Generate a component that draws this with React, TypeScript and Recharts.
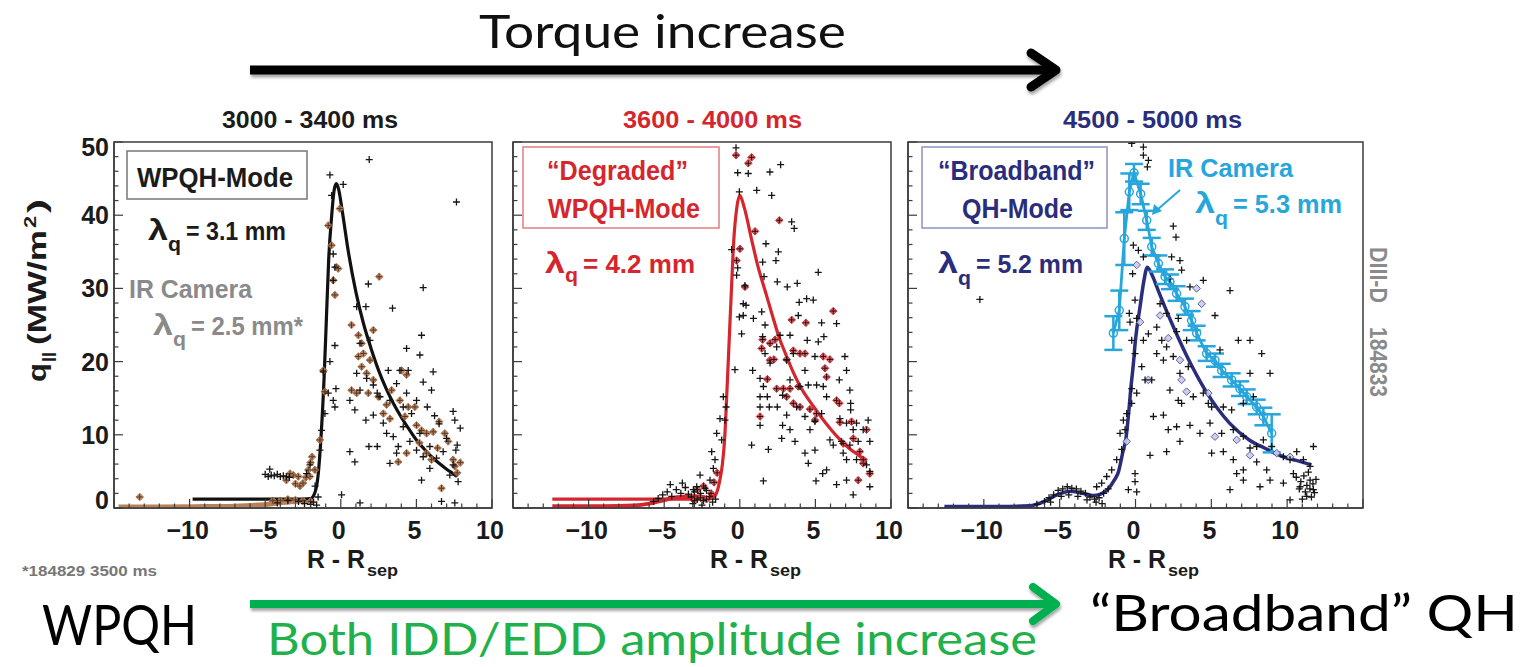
import React from 'react';
import { ComposedChart, Line, Scatter, XAxis, YAxis, ReferenceArea, ErrorBar } from 'recharts';

type Pt = [number, number];

// axis ticks
const X_TICKS_25 = [-15, -14, -13, -12, -11, -10, -9, -8, -7, -6, -5, -4, -3, -2, -1, 0, 1, 2, 3, 4, 5, 6, 7, 8, 9, 10];
const X_TICKS_30 = [-15, -14, -13, -12, -11, -10, -9, -8, -7, -6, -5, -4, -3, -2, -1, 0, 1, 2, 3, 4, 5, 6, 7, 8, 9, 10, 11, 12, 13, 14, 15];
const Y_TICKS = [0, 2, 4, 6, 8, 10, 12, 14, 16, 18, 20, 22, 24, 26, 28, 30, 32, 34, 36, 38, 40, 42, 44, 46, 48, 50];
const X_LABELS = [-10, -5, 0, 5, 10];
const Y_LABELS = [0, 10, 20, 30, 40, 50];

// panel 1: 3000 - 3400 ms
const P1_FIT: Pt[] = [[-9.8, 1.2], [-6, 1.2], [-3, 1.2], [-2, 1.3], [-1.7, 2.2], [-1.5, 4.5], [-1.3, 10], [-1.1, 18], [-0.95, 26], [-0.8, 34], [-0.6, 40], [-0.45, 43.3], [-0.3, 44.3], [-0.15, 43.6], [0.1, 40.5], [0.5, 35], [1, 29.5], [1.5, 25.2], [2, 21.8], [2.5, 18.8], [3, 16.3], [3.5, 14.2], [4, 12.4], [4.5, 10.8], [5, 9.3], [5.5, 8.1], [6, 7], [6.5, 6.1], [7, 5.3], [7.5, 4.6], [7.7, 4.3]];
const P1_BAND: Pt[] = [[-14.7, 0.15], [-12, 0.15], [-9, 0.2], [-7, 0.25], [-5.5, 0.4], [-4, 0.7], [-3, 0.9], [-2, 1.0]];
const P1_BLACK: Pt[] = [[1.88, 47.6], [-0.72, 45.5], [0.16, 44.2], [7.65, 41.8], [-0.61, 42.7], [-0.5, 34.7], [-0.5, 31.1], [-0.39, 32.9], [1.82, 30.6], [5.45, 30.1], [1.05, 27.5], [1.66, 27.5], [3.42, 27.3], [5.34, 23.6], [-0.39, 22.2], [4.35, 21.8], [5.23, 20.9], [6.11, 18.6], [3.14, 18.8], [-0.72, 20.0], [1.93, 22.9], [1.27, 22.5], [3.91, 18.8], [4.46, 18.8], [5.45, 17.2], [6.0, 16.1], [-0.32, 16.3], [-0.5, 14.7], [-0.39, 13.8], [0.6, 14.7], [0.93, 13.4], [1.66, 12.0], [2.15, 12.7], [2.41, 15.7], [3.25, 14.7], [4.13, 13.8], [5.01, 14.7], [5.72, 13.8], [2.81, 11.6], [3.03, 10.2], [3.47, 9.75], [4.13, 11.1], [4.57, 9.1], [5.01, 7.9], [5.45, 7.0], [5.89, 8.4], [6.33, 6.8], [6.77, 7.7], [7.43, 13.2], [7.54, 12.0], [7.61, 7.9], [7.43, 5.9], [7.76, 3.6], [7.21, 4.5], [5.34, 3.8], [5.89, 5.4], [0.6, 7.7], [0.93, 6.3], [1.86, 8.4], [2.41, 8.4], [0.05, 1.8], [1.27, 0.7], [6.66, 0.9], [7.54, 0.7], [-1.16, 18.6], [-0.83, 15.7], [-1.05, 12.9], [-1.27, 10.6], [-1.38, 7.9], [-2.26, 4.7], [-2.04, 5.9], [1.05, 18.4], [1.27, 16.1], [1.71, 17.7], [2.15, 16.8], [2.59, 15.2], [3.69, 17.0], [4.35, 15.7], [4.68, 12.9], [5.23, 10.2], [3.69, 7.5], [3.25, 6.1], [3.8, 8.4], [-5.0, 4.6], [-4.8, 4.3], [-4.6, 4.5], [-4.4, 4.4], [-4.2, 4.6], [-4.0, 4.3], [-3.8, 4.4], [-3.6, 4.3], [-3.4, 4.2], [-4.7, 5.3], [-2.4, 0.6], [-2.0, 0.5], [-1.8, 0.8], [-1.6, 0.4], [-2.8, 0.9], [-3.5, 1.0], [-4.2, 0.7], [-1.5, 1.5], [-1.7, 3.0], [7.9, 10.9], [7.7, 8.6], [7.0, 9.5], [6.5, 11.5], [6.2, 12.6]];
const P1_BROWN: Pt[] = [[-0.06, 40.9], [-0.83, 38.6], [-0.61, 35.9], [-0.28, 32.9], [-0.17, 32.7], [-0.39, 29.1], [2.54, 31.6], [0.71, 25.0], [1.16, 23.6], [1.38, 22.5], [2.15, 24.3], [1.16, 20.7], [1.49, 21.1], [1.38, 19.3], [1.93, 20.2], [1.71, 18.4], [2.15, 17.5], [4.02, 18.8], [4.35, 18.2], [0.71, 16.1], [1.05, 15.7], [1.82, 15.7], [2.48, 15.2], [3.03, 14.1], [3.36, 16.1], [3.91, 14.7], [4.46, 13.8], [4.9, 13.8], [2.81, 12.9], [3.25, 12.2], [4.24, 12.5], [5.01, 11.3], [5.34, 10.6], [5.67, 10.2], [6.11, 10.4], [6.88, 10.2], [7.1, 9.1], [3.8, 6.3], [4.35, 7.5], [5.67, 7.5], [6.0, 6.6], [6.66, 2.7], [7.43, 6.6], [7.54, 5.7], [-0.5, 31.1], [-1.16, 18.8], [-1.05, 15.9], [-1.38, 9.3], [-1.71, 5.2], [-2.04, 4.3], [-2.81, 4.3], [-3.14, 4.5], [-3.36, 4.7], [-13.3, 1.5], [-3.6, 3.8], [-3.0, 3.3], [-2.7, 3.0], [-2.5, 3.4], [-2.3, 4.2], [-2.15, 5.2], [-2.0, 6.2], [-1.9, 7.0], [-4.5, 1.0], [-4.0, 1.0], [-3.5, 1.2], [-3.0, 1.1], [-2.5, 1.0], [-2.0, 0.9], [7.7, 4.8], [7.9, 6.2], [6.4, 8.2], [5.2, 8.9], [6.5, 11.8]];

// panel 2: 3600 - 4000 ms
const P2_FIT: Pt[] = [[-12.4, 1.2], [-8, 1.2], [-4, 1.2], [-2, 1.25], [-1.6, 1.8], [-1.35, 3.5], [-1.15, 6], [-1.0, 9.5], [-0.85, 16], [-0.7, 23], [-0.55, 30], [-0.4, 36.5], [-0.2, 41], [0, 42.7], [0.3, 41], [0.8, 36.5], [1.2, 33], [1.7, 29.5], [2.2, 26], [2.6, 23.3], [3.0, 21.2], [3.5, 18.7], [4, 16.6], [4.9, 13.8], [5.5, 12.1], [6, 10.8], [6.6, 9.4], [7.2, 8.2], [7.8, 7.3], [8.4, 6.5]];
const P2_BAND: Pt[] = [[-12.4, 0.25], [-9, 0.25], [-7, 0.35], [-6, 0.6], [-5, 1.1], [-4, 1.5], [-3, 1.6], [-2.2, 1.4]];
const P2_BLACK: Pt[] = [[-0.25, 49.2], [-0.14, 45.8], [0.56, 45.7], [1.99, 45.9], [2.7, 46.9], [1.12, 43.4], [-0.03, 43.2], [2.11, 42.7], [3.43, 39.1], [3.6, 38.2], [-0.54, 35.3], [1.73, 36.1], [2.55, 35.0], [-0.14, 32.8], [-0.21, 31.8], [5.19, 32.2], [0.34, 30.4], [1.51, 33.6], [2.39, 33.8], [1.6, 31.6], [2.48, 30.9], [3.14, 30.2], [3.8, 30.7], [4.42, 28.6], [4.86, 28.4], [3.93, 28.1], [0.23, 27.9], [0.41, 27.7], [0.23, 26.3], [-0.03, 26.1], [0.9, 25.9], [1.67, 25.0], [1.45, 26.8], [3.87, 26.3], [5.41, 25.3], [6.4, 25.2], [0.12, 23.8], [2.66, 23.6], [3.32, 23.6], [4.46, 22.9], [5.19, 22.7], [5.56, 23.4], [1.51, 23.4], [1.67, 21.1], [2.44, 22.0], [2.0, 19.8], [3.1, 20.2], [3.54, 21.1], [4.31, 18.8], [4.97, 20.7], [6.95, 20.7], [7.06, 18.8], [-0.32, 18.9], [0.85, 18.8], [1.34, 17.7], [1.56, 16.6], [1.82, 15.2], [1.34, 15.2], [2.83, 15.4], [3.32, 17.5], [3.98, 16.6], [4.53, 16.8], [5.08, 16.8], [5.52, 16.6], [5.74, 15.2], [6.58, 17.5], [7.28, 16.1], [7.33, 14.3], [7.33, 13.4], [1.34, 13.8], [1.95, 13.8], [1.34, 11.3], [2.48, 13.8], [3.1, 12.7], [3.76, 13.8], [4.31, 12.5], [4.97, 11.8], [5.41, 12.9], [2.83, 11.3], [3.32, 10.7], [4.64, 10.7], [6.62, 12.2], [7.06, 11.6], [7.72, 11.6], [8.49, 12.0], [8.16, 10.7], [7.5, 10.7], [0.78, 8.6], [1.89, 8.0], [2.77, 9.5], [3.65, 9.1], [4.31, 7.5], [4.97, 7.9], [5.96, 9.3], [6.18, 8.6], [6.73, 9.1], [7.28, 8.6], [7.83, 9.1], [8.6, 9.1], [6.84, 7.5], [7.06, 6.6], [7.72, 6.6], [8.38, 5.9], [8.6, 5.0], [8.6, 2.9], [7.5, 1.8], [7.06, 3.8], [6.4, 3.2], [5.74, 5.2], [5.48, 4.7], [5.04, 3.7], [4.53, 6.1], [1.56, 3.7], [-1.09, 15.2], [-0.91, 13.8], [-0.98, 12.0], [-1.31, 12.2], [-1.2, 9.3], [-1.53, 10.2], [-1.86, 7.7], [-1.64, 6.6], [-1.75, 5.4], [-1.97, 3.8], [-2.3, 2.7], [-2.63, 4.5], [-2.85, 2.9], [-3.07, 2.5], [-3.2, 1.5], [-3.0, 2.2], [-2.8, 1.2], [-2.6, 2.0], [-2.4, 1.0], [-2.2, 2.4], [-2.0, 1.6], [-1.8, 0.8], [-1.6, 1.2], [-3.1, 0.6], [-2.5, 0.4], [-5.4, 1.3], [-5.1, 1.8], [-4.8, 2.2], [-4.5, 1.6], [-4.2, 2.5], [-3.9, 2.0], [-3.6, 2.8], [-3.4, 1.9], [-5.7, 0.9], [-4.6, 3.2], [-3.8, 3.4]];
const P2_RED: Pt[] = [[-0.25, 48.2], [0.78, 47.9], [0.56, 47.1], [1.01, 37.8], [0.01, 35.4], [-0.21, 33.8], [0.34, 30.2], [2.61, 39.3], [6.18, 26.9], [3.43, 25.7], [4.37, 25.3], [1.51, 23.0], [2.0, 22.5], [2.33, 23.0], [3.54, 21.5], [3.98, 21.1], [4.31, 21.1], [5.52, 20.7], [5.96, 20.3], [5.63, 19.1], [5.74, 17.9], [1.45, 21.8], [2.0, 20.2], [2.26, 20.3], [3.1, 20.3], [1.82, 17.6], [2.44, 16.3], [2.88, 16.3], [3.32, 16.3], [3.87, 16.6], [3.54, 14.3], [3.98, 13.8], [4.64, 13.5], [5.08, 12.9], [4.97, 12.0], [6.4, 14.7], [6.58, 14.3], [6.62, 11.7], [7.39, 11.8], [1.34, 12.5], [3.1, 15.2], [6.84, 8.8], [7.5, 9.5], [7.94, 7.7], [8.16, 6.1], [8.38, 10.7], [8.6, 4.7], [7.83, 3.8], [8.16, 6.6], [-3.0, 1.0], [-2.6, 1.4], [-2.2, 1.2], [-1.9, 2.0], [-1.7, 3.5], [-1.5, 4.8], [-2.8, 2.5], [-2.4, 3.0]];

// panel 3: 4500 - 5000 ms
const P3_FIT: Pt[] = [[-12.6, 0.2], [-9, 0.2], [-7, 0.3], [-6, 0.9], [-5.2, 1.8], [-4.3, 2.3], [-3.5, 2.0], [-2.8, 1.7], [-2.3, 1.9], [-1.8, 2.6], [-1.4, 3.8], [-1.13, 4.9], [-0.85, 7.5], [-0.63, 9.5], [-0.45, 13], [-0.32, 16.1], [-0.15, 19.5], [0, 23], [0.3, 27.5], [0.55, 31], [0.78, 32.9], [1.1, 31.8], [1.5, 29.7], [2.4, 25.2], [3.4, 20.7], [4.6, 16.1], [6.2, 11.6], [7.5, 9.3], [8.5, 8.2], [9.75, 7.0], [10.6, 6.5], [11.6, 5.9]];
const P3_IR: [number, number, number][] = [[-1.46, 23.9, 2.3], [-1.07, 27.0, 2.7], [-0.74, 36.8, 3.6], [-0.41, 43.2, 2.5], [-0.1, 45.8, 1.2], [0.34, 42.9, 1.4], [0.74, 39.3, 1.3], [1.07, 35.7, 1.2], [1.51, 33.4, 1.1], [1.95, 31.6, 1.0], [2.27, 30.9, 1.0], [2.71, 29.3, 1.0], [3.26, 27.5, 1.1], [3.7, 25.6, 1.3], [4.03, 23.9, 1.0], [4.69, 21.1, 1.0], [5.24, 20.2, 0.9], [5.68, 18.8, 0.9], [6.34, 17.5, 0.9], [6.89, 16.3, 1.0], [7.33, 15.2, 1.0], [7.99, 13.8, 1.0], [8.43, 12.5, 1.2], [8.98, 10.2, 2.6]];
const P3_BLACK: Pt[] = [[-0.25, 49.8], [0.52, 49.3], [0.52, 48.2], [0.85, 47.5], [0.78, 46.6], [2.49, 38.5], [2.67, 37.0], [-0.14, 35.9], [0.19, 35.2], [0.52, 34.3], [-0.19, 32.0], [2.38, 34.3], [2.93, 33.8], [3.04, 32.5], [2.27, 31.3], [3.59, 30.2], [4.47, 31.1], [6.23, 29.7], [-0.03, 28.4], [-0.41, 26.6], [-0.36, 25.4], [0.08, 25.9], [1.62, 27.9], [2.05, 26.6], [2.82, 25.9], [5.24, 26.3], [6.78, 22.9], [7.55, 22.9], [5.57, 21.6], [8.32, 21.1], [-0.25, 22.9], [-0.03, 21.1], [0.52, 22.9], [0.85, 23.8], [1.4, 24.7], [1.73, 22.9], [2.05, 22.0], [2.71, 24.1], [3.37, 22.9], [0.41, 19.3], [0.63, 17.5], [1.07, 17.5], [1.4, 21.1], [1.84, 20.2], [2.49, 20.7], [2.93, 18.4], [3.48, 19.3], [2.27, 16.1], [2.82, 14.7], [3.81, 15.2], [4.47, 15.7], [4.8, 14.3], [5.02, 13.8], [5.79, 13.8], [6.34, 13.4], [7.11, 14.3], [7.77, 15.2], [-0.25, 16.3], [-0.25, 14.3], [-0.58, 12.9], [-0.8, 12.0], [-0.69, 10.7], [-1.02, 10.2], [-0.91, 8.0], [-1.24, 6.6], [-1.57, 5.2], [-1.9, 4.3], [-2.23, 3.4], [-2.56, 2.9], [0.08, 15.7], [1.18, 12.5], [1.84, 12.7], [2.16, 10.7], [2.71, 11.1], [2.93, 9.1], [2.05, 7.7], [0.96, 7.2], [3.59, 11.3], [4.25, 10.2], [4.91, 11.6], [5.68, 10.2], [6.45, 10.7], [7.11, 9.8], [7.55, 8.2], [7.99, 8.4], [8.43, 9.3], [8.98, 8.4], [5.02, 7.5], [5.79, 7.7], [6.45, 6.6], [7.11, 5.2], [7.99, 6.3], [8.65, 5.2], [9.75, 7.0], [10.19, 6.6], [10.63, 7.7], [11.07, 6.6], [11.73, 8.4], [11.51, 5.7], [10.41, 4.7], [9.75, 3.4], [10.85, 2.9], [11.51, 3.8], [11.73, 2.5], [11.29, 1.6], [10.19, 1.1], [8.87, 3.8], [8.21, 2.9], [7.11, 3.8], [6.23, 2.5], [6.67, 4.7], [-0.03, 4.7], [-0.03, 3.6], [0.08, 2.2], [-0.47, 2.5], [3.04, 14.3], [8.87, 18.4], [7.55, 18.4], [-10.26, 28.5], [10.6, 4.2], [10.9, 3.6], [11.1, 4.4], [11.3, 3.1], [11.5, 2.6], [11.7, 3.3], [11.8, 2.1], [11.6, 1.5], [11.2, 2.2], [10.8, 2.6], [11.9, 3.9], [11.4, 4.9], [11.0, 1.2], [-6.5, 0.5], [-6, 0.9], [-5.7, 1.4], [-5.4, 1.8], [-5.1, 2.4], [-4.8, 2.6], [-4.5, 2.9], [-4.2, 2.7], [-3.9, 2.6], [-3.6, 2.3], [-3.3, 2.0], [-3.0, 1.5], [-2.7, 1.2], [-2.4, 1.4], [-2.1, 2.0], [-1.8, 2.6], [-5.6, 0.8], [-4.9, 1.6], [-4.4, 1.8], [-3.8, 1.6], [-3.2, 1.1], [-2.6, 0.8], [-2.2, 0.6]];
const P3_NAVY: Pt[] = [[0.08, 33.2], [0.3, 25.4], [1.62, 26.3], [2.16, 23.2], [2.93, 20.2], [3.04, 17.5], [3.37, 15.9], [4.03, 30.0], [4.36, 27.9], [4.8, 15.7], [0.85, 17.5], [-0.58, 9.1], [6.67, 9.3], [5.24, 9.75], [7.55, 7.2], [9.31, 7.5], [10.19, 7.0]];

const toXY = (pts: Pt[]) => pts.map(([x, y]) => ({ x, y }));
const irData = P3_IR.map(([x, y, err]) => ({ x, y, err }));

const SANS = "'Liberation Sans', Arial, Helvetica, sans-serif";
const GOTHIC = "Lato, 'Open Sans', sans-serif";
const INK = '#1b1b1b';
const FRAME = '#3c3c3c';
const RED = '#d5262e';
const NAVY = '#2a2d7c';
const CYAN = '#27a6dc';
const GRAY = '#8a8a8a';
const BROWN = '#b98159';
const GREEN = '#00b050';

const PLOT_TOP = 142;
const PLOT_H = 366;

const cross = (color: string, s = 3.5, w = 1.3) => (p: any) => (
  <path d={`M${p.cx - s},${p.cy}H${p.cx + s}M${p.cx},${p.cy - s}V${p.cy + s}`} stroke={color} strokeWidth={w} fill="none" />
);

const diamond = (fill: string, stroke: string, inner: string | null, r = 3.8) => (p: any) => (
  <g>
    <path d={`M${p.cx},${p.cy - r}L${p.cx + r},${p.cy}L${p.cx},${p.cy + r}L${p.cx - r},${p.cy}Z`} fill={fill} stroke={stroke} strokeWidth={1} opacity={0.9} />
    {inner && <path d={`M${p.cx - 3},${p.cy}H${p.cx + 3}M${p.cx},${p.cy - 3}V${p.cy + 3}`} stroke={inner} strokeWidth={1} />}
  </g>
);

function XTick(props: any) {
  const { x, y, payload } = props;
  const v = payload.value as number;
  const major = v % 5 === 0;
  return (
    <g>
      <line x1={x} x2={x} y1={y} y2={y - (major ? 9 : 4.5)} stroke={FRAME} strokeWidth={1.2} />
      {X_LABELS.includes(v) && (
        <text x={x - 2} y={y + 31} textAnchor="middle" fontFamily={SANS} fontWeight={700} fontSize={25} fill={INK}>
          {v < 0 ? `\u2212${-v}` : String(v)}
        </text>
      )}
    </g>
  );
}

function YTick(props: any) {
  const { x, y, payload, showLabels } = props;
  const v = payload.value as number;
  const major = v % 10 === 0;
  const nudge = v === 50 ? 5 : v === 0 ? -8 : 0;
  return (
    <g>
      <line x1={x} x2={x + (major ? 9 : 4.5)} y1={y} y2={y} stroke={FRAME} strokeWidth={1.2} />
      {showLabels && Y_LABELS.includes(v) && (
        <text x={x - 5} y={y + nudge + 9} textAnchor="end" fontFamily={SANS} fontWeight={700} fontSize={25} fill={INK}>
          {v}
        </text>
      )}
    </g>
  );
}

function Panel({ left, plotW, xMax, xTicks, showLabels, children }: any) {
  return (
    <div style={{ position: 'absolute', left: left - 60, top: PLOT_TOP - 10 }}>
      <ComposedChart width={plotW + 90} height={PLOT_H + 60} margin={{ top: 10, right: 30, bottom: 0, left: 0 }}>
        <XAxis type="number" dataKey="x" domain={[-15, xMax]} ticks={xTicks} interval={0} allowDataOverflow
          height={50} tickSize={0} tickMargin={0} tickLine={false} axisLine={{ stroke: FRAME, strokeWidth: 1.5 }}
          tick={(p: any) => <XTick {...p} />} />
        <YAxis type="number" dataKey="y" domain={[0, 50]} ticks={Y_TICKS} interval={0} allowDataOverflow
          width={60} tickSize={0} tickMargin={0} tickLine={false} axisLine={{ stroke: FRAME, strokeWidth: 1.5 }}
          tick={(p: any) => <YTick {...p} showLabels={showLabels} />} />
        <ReferenceArea x1={-15} x2={xMax} y1={0} y2={50} fill="none" fillOpacity={0} stroke={FRAME} strokeWidth={1.5} />
        {children}
      </ComposedChart>
    </div>
  );
}

function T({ x, y, w, size, fill = INK, weight = 700, family = SANS, children }: any) {
  return (
    <text x={x} y={y} fontSize={size} fontWeight={weight} fontFamily={family} fill={fill}
      textLength={w} lengthAdjust="spacingAndGlyphs">
      {children}
    </text>
  );
}

function Lambda({ x, y, w, fill, text, qy = 11 }: any) {
  return (
    <g>
      <T x={x} y={y} w={20} size={30} fill={fill}>λ</T>
      <T x={x + 20} y={y + qy} w={13} size={20} fill={fill}>q</T>
      <T x={x + 38} y={y} w={w} size={26} fill={fill}>{text}</T>
    </g>
  );
}

function Rsep({ x }: { x: number }) {
  return (
    <g>
      <T x={x} y={568} w={58} size={25}>R - R</T>
      <T x={x + 60} y={576} w={31} size={16}>sep</T>
    </g>
  );
}

export default function App() {
  return (
    <div style={{ position: 'absolute', left: 0, top: 0, width: 1522, height: 667, background: '#fff', overflow: 'hidden' }}>
      <Panel left={114} plotW={378} xMax={10} xTicks={X_TICKS_25} showLabels>
        <Line data={toXY(P1_BAND)} dataKey="y" type="monotone" stroke={BROWN} strokeWidth={5} dot={false} isAnimationActive={false} />
        <Scatter data={toXY(P1_BROWN)} shape={diamond(BROWN, '#a8704a', '#5a3520')} isAnimationActive={false} />
        <Scatter data={toXY(P1_BLACK)} shape={cross('#151515')} isAnimationActive={false} />
        <Line data={toXY(P1_FIT)} dataKey="y" type="monotone" stroke="#111" strokeWidth={3.2} dot={false} isAnimationActive={false} />
      </Panel>
      <Panel left={513} plotW={378} xMax={10} xTicks={X_TICKS_25} showLabels={false}>
        <Line data={toXY(P2_BAND)} dataKey="y" type="monotone" stroke={RED} strokeWidth={4} dot={false} isAnimationActive={false} />
        <Scatter data={toXY(P2_RED)} shape={diamond('#e0575c', '#c8242b', '#2a0a0a')} isAnimationActive={false} />
        <Scatter data={toXY(P2_BLACK)} shape={cross('#151515')} isAnimationActive={false} />
        <Line data={toXY(P2_FIT)} dataKey="y" type="monotone" stroke={RED} strokeWidth={3.2} dot={false} isAnimationActive={false} />
      </Panel>
      <Panel left={908} plotW={455} xMax={15} xTicks={X_TICKS_30} showLabels={false}>
        <Scatter data={toXY(P3_NAVY)} shape={diamond('#c9cbe8', '#4a4d9a', null)} isAnimationActive={false} />
        <Scatter data={toXY(P3_BLACK)} shape={cross('#151515')} isAnimationActive={false} />
        <Line data={toXY(P3_FIT)} dataKey="y" type="monotone" stroke={NAVY} strokeWidth={3.5} dot={false} isAnimationActive={false} />
        <Line data={irData} dataKey="y" type="linear" stroke={CYAN} strokeWidth={2.8}
          dot={{ r: 4, stroke: CYAN, strokeWidth: 1.5, fill: 'none' }} isAnimationActive={false}>
          <ErrorBar dataKey="err" direction="y" width={9} stroke={CYAN} strokeWidth={2.5} />
        </Line>
      </Panel>

      <svg width={1522} height={667} style={{ position: 'absolute', left: 0, top: 0, pointerEvents: 'none' }}>
        <defs>
          <filter id="sh" x="-5%" y="-50%" width="110%" height="200%">
            <feDropShadow dx="1" dy="3" stdDeviation="1.5" floodColor="#000" floodOpacity="0.35" />
          </filter>
        </defs>

        {/* top arrow */}
        <T x={479} y={48} w={367} size={47} weight={400} family={GOTHIC} fill="#111">Torque increase</T>
        <g filter="url(#sh)" stroke="#050505" strokeWidth={9} fill="none">
          <path d="M250,70H1052" />
          <path d="M1031,53L1056,70L1031,87" strokeLinecap="round" strokeLinejoin="round" />
        </g>

        {/* titles */}
        <T x={222} y={128} w={176} size={23}>3000 - 3400 ms</T>
        <T x={623} y={128} w={179} size={23} fill={RED}>3600 - 4000 ms</T>
        <T x={1063} y={128} w={179} size={23} fill={NAVY}>4500 - 5000 ms</T>

        {/* y axis title */}
        <g transform="translate(46,288) rotate(-90)" fontFamily={SANS} fontWeight={700} fill={INK}>
          <text x={-94} y={0} fontSize={26} textLength={19} lengthAdjust="spacingAndGlyphs">q</text>
          <text x={-74} y={7} fontSize={15} textLength={10} lengthAdjust="spacingAndGlyphs">||</text>
          <text x={-57} y={0} fontSize={25} textLength={115} lengthAdjust="spacingAndGlyphs">(MW/m</text>
          <text x={60} y={-10} fontSize={17} textLength={12} lengthAdjust="spacingAndGlyphs">2</text>
          <text x={75} y={0} fontSize={25} textLength={14} lengthAdjust="spacingAndGlyphs">)</text>
        </g>

        {/* panel 1 legend */}
        <rect x={127} y={151} width={180} height={48} fill="#fff" stroke="#777" strokeWidth={1.5} />
        <T x={137} y={187} w={156} size={27}>WPQH-Mode</T>
        <Lambda x={148} y={240} w={100} fill={INK} text="= 3.1 mm" />
        <T x={129} y={298} w={123} size={25} fill={GRAY}>IR Camera</T>
        <Lambda x={153} y={335} w={112} fill={GRAY} text="= 2.5 mm*" />

        {/* panel 2 legend */}
        <rect x={523} y={147} width={196} height={81} fill="#fff" stroke="#e77b7f" strokeWidth={1.5} />
        <T x={547} y={180} w={141} size={27} fill={RED}>“Degraded”</T>
        <T x={548} y={218} w={152} size={27} fill={RED}>WPQH-Mode</T>
        <Lambda x={545} y={273} w={112} fill={RED} text="= 4.2 mm" qy={9} />

        {/* panel 3 legend */}
        <rect x={922} y={147} width={185} height={81} fill="#fff" stroke="#8f91c4" strokeWidth={1.5} />
        <T x={938} y={180} w={157} size={27} fill={NAVY}>“Broadband”</T>
        <T x={962} y={218} w={111} size={27} fill={NAVY}>QH-Mode</T>
        <Lambda x={938} y={273} w={107} fill={NAVY} text="= 5.2 mm" qy={12} />
        <T x={1168} y={177} w={125} size={26} fill={CYAN}>IR Camera</T>
        <Lambda x={1195} y={213} w={109} fill={CYAN} text="= 5.3 mm" qy={12} />
        <path d="M1180,190L1157,210" stroke={CYAN} strokeWidth={2} />
        <path d="M1152,215L1154,204L1162,211Z" fill={CYAN} />

        {/* side label */}
        <g transform="translate(1370,247) rotate(90)">
          <T x={0} y={0} w={56} size={24} fill={GRAY}>DIII-D</T>
          <T x={80} y={0} w={70} size={24} fill={GRAY}>184833</T>
        </g>

        {/* x axis titles */}
        <Rsep x={307} />
        <Rsep x={710} />
        <Rsep x={1108} />
        <T x={22} y={576} w={135} size={14} fill="#777">*184829 3500 ms</T>

        {/* bottom arrow */}
        <g filter="url(#sh)" stroke={GREEN} strokeWidth={8} fill="none">
          <path d="M250,604H1052" />
          <path d="M1033,587L1056,604L1033,621" strokeLinecap="round" strokeLinejoin="round" />
        </g>
        <T x={42} y={645} w={155} size={57} weight={400} family={GOTHIC} fill="#000">WPQH</T>
        <T x={267} y={655} w={770} size={45} weight={400} family={GOTHIC} fill="#1fb14b">Both IDD/EDD amplitude increase</T>
        <T x={1090} y={631} w={428} size={51} weight={400} family={GOTHIC} fill="#000">“Broadband” QH</T>
      </svg>
    </div>
  );
}
